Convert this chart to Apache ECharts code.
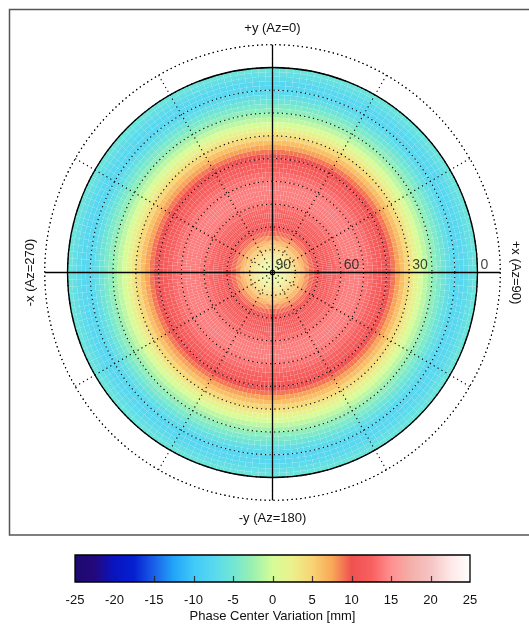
<!DOCTYPE html>
<html><head><meta charset="utf-8">
<script src="https://cdn.jsdelivr.net/npm/echarts@6/dist/echarts.min.js"></script>
<style>html,body{margin:0;padding:0;background:#fff}#c{width:529px;height:624px}</style>
</head><body><div id="c"></div>
<script>
// elevation cell centres (deg) and phase centre variation (mm), radially symmetric pattern
var elevations = [1,3,5,7,9,11,13,15,17,19,21,23,25,27,29,31,33,35,37,39,41,43,45,47,49,51,53,55,57,59,61,63,65,67,69,71,73,75,77,79,81,83,85,87,89];
var pcv = [-5.6,-6.3,-7.0,-7.5,-7.6,-7.2,-6.4,-5.3,-4.3,-3.3,-2.2,-1.0,0.3,1.8,3.3,4.8,6.2,7.6,8.9,10.0,11.0,11.8,12.5,13.1,13.5,13.8,14.0,14.0,13.9,13.6,13.2,12.7,12.2,11.6,11.0,10.2,9.3,8.2,7.0,5.8,4.5,3.4,2.4,1.7,1.3];
var azStep = 2, elStep = 2;
var ringLabels = [90, 60, 30, 0];
var cbTicks = [-25,-20,-15,-10,-5,0,5,10,15,20,25];
var cbValues = [-25,-22.5,-20,-17.5,-15,-12.5,-10,-7.5,-5,-2.5,0,2.5,5,7.5,10,12.5,15,17.5,20,22.5,25];
var cbColors = ['#1c0a6e','#24087c','#0a14c0','#0420d0','#1a5ee8','#22a4f8','#40c8f8','#58d8f0','#70e6d4','#9cf0b0','#d4fc98','#ecf08c','#f8d474','#f8a858','#f05050','#f86060','#ff9090','#f4b0aa','#f6c4c4','#ffe8e8','#ffffff'];
var dirLabels = ['+y (Az=0)', '+x (Az=90)', '-y (Az=180)', '-x (Az=270)'];
var cbTitle = 'Phase Center Variation [mm]';

var heat = [];
for (var i = 0; i < elevations.length; i++) {
  for (var az = 0; az < 360; az += azStep) heat.push([elevations[i], az + azStep / 2, pcv[i]]);
}

var FONT = '"Liberation Sans", Arial, sans-serif';
var chart = echarts.init(document.getElementById('c'), null, {renderer: 'canvas'});
var dotted = {color: '#000', type: [1.2, 3.3], width: 1.1};

function renderCell(params, api) {
  var el = api.value(0), a = api.value(1);
  var c = api.coord([90, 0]);
  var pIn = api.coord([el + elStep / 2, a]);
  var pOut = api.coord([el - elStep / 2, a]);
  var pa = api.coord([el, a - azStep / 2]);
  var pb = api.coord([el, a + azStep / 2]);
  var r0 = Math.hypot(pIn[0] - c[0], pIn[1] - c[1]);
  var r = Math.hypot(pOut[0] - c[0], pOut[1] - c[1]);
  var a1 = Math.atan2(pa[1] - c[1], pa[0] - c[0]);
  var a2 = Math.atan2(pb[1] - c[1], pb[0] - c[0]);
  if (a2 < a1) a2 += 2 * Math.PI;
  return {type: 'sector', shape: {cx: c[0], cy: c[1], r0: r0, r: r, startAngle: a1, endAngle: a2, clockwise: true},
          style: {fill: api.visual('color')}};
}

function renderBar(params, api) {
  var lo = cbValues[0], hi = cbValues[cbValues.length - 1];
  var p0 = api.coord([lo, 1]), p1 = api.coord([hi, 0]);
  var stops = cbValues.map(function (v, i) { return {offset: (v - lo) / (hi - lo), color: cbColors[i]}; });
  var kids = [{type: 'rect', shape: {x: p0[0], y: p0[1], width: p1[0] - p0[0], height: p1[1] - p0[1]},
          style: {fill: new echarts.graphic.LinearGradient(0, 0, 1, 0, stops), stroke: '#000', lineWidth: 1.3}}];
  cbTicks.slice(1, -1).forEach(function (v) {
    var p = api.coord([v, 0]);
    kids.push({type: 'line', shape: {x1: Math.round(p[0]) + 0.5, y1: p[1], x2: Math.round(p[0]) + 0.5, y2: p[1] - 6},
      style: {stroke: '#222', lineWidth: 1.2, opacity: 0.85}});
  });
  return {type: 'group', children: kids};
}

var txt = {font: '13px ' + FONT, fill: '#111', align: 'center', verticalAlign: 'middle'};
function T(s, x, y, rot) { return {type: 'text', x: x, y: y, rotation: rot || 0, style: Object.assign({text: s}, txt)}; }

chart.setOption({
  animation: false,
  backgroundColor: '#fff',
  textStyle: {fontFamily: FONT},
  graphic: [
    {type: 'rect', shape: {x: 9.5, y: 9.5, width: 540, height: 525.5}, style: {fill: null, stroke: '#555', lineWidth: 1.5}, z: 0},
    T(dirLabels[0], 272.5, 28.5),
    T(dirLabels[2], 272.5, 518),
    T(dirLabels[3], 30, 272.5, Math.PI / 2),
    T(dirLabels[1], 516, 272.5, -Math.PI / 2)
  ],
  polar: [
    {center: [272.5, 272.5], radius: 227.8},
    {center: [272.5, 272.5], radius: 205}
  ],
  angleAxis: [
    {polarIndex: 0, type: 'value', min: 0, max: 360, interval: 30, startAngle: 90, clockwise: true, z: 10,
     axisLine: {show: true, lineStyle: dotted}, axisTick: {show: false}, axisLabel: {show: false},
     splitLine: {show: true, lineStyle: dotted}},
    {polarIndex: 1, type: 'value', min: 0, max: 360, interval: 30, startAngle: 90, clockwise: true, z: 11,
     axisLine: {show: true, lineStyle: {color: '#000', width: 1.3}}, axisTick: {show: false}, axisLabel: {show: false},
     splitLine: {show: false}}
  ],
  radiusAxis: [
    {polarIndex: 0, type: 'value', min: -10, max: 90, interval: 10, inverse: true, z: 10,
     axisLine: {show: false}, axisTick: {show: false}, axisLabel: {show: false},
     splitLine: {show: true, lineStyle: dotted}},
    {polarIndex: 1, type: 'value', min: 0, max: 90, interval: 30, inverse: true,
     axisLine: {show: false}, axisTick: {show: false}, axisLabel: {show: false}, splitLine: {show: false}}
  ],
  grid: {left: 75, top: 555, width: 395, height: 27, show: false},
  xAxis: {type: 'value', min: cbTicks[0], max: cbTicks[cbTicks.length - 1], interval: 5,
    axisLine: {show: false}, axisTick: {show: false},
    axisLabel: {fontSize: 13, color: '#111', margin: 12, fontFamily: FONT},
    splitLine: {show: false},
    name: cbTitle, nameLocation: 'middle', nameGap: 28, nameTextStyle: {fontSize: 13, color: '#111', fontFamily: FONT}},
  yAxis: {type: 'value', min: 0, max: 1, show: false},
  visualMap: {show: false, type: 'continuous', min: -25, max: 25, dimension: 2, seriesIndex: 0, inRange: {color: cbColors}},
  series: [
    {type: 'custom', coordinateSystem: 'polar', polarIndex: 1, renderItem: renderCell, data: heat, z: 1, silent: true},
    {type: 'line', coordinateSystem: 'polar', polarIndex: 0, data: [[-10, 90], [-10, 270]], symbol: 'none', z: 12,
     lineStyle: {color: '#000', width: 1.3}, silent: true},
    {type: 'line', coordinateSystem: 'polar', polarIndex: 0, data: [[-10, 0], [-10, 180]], symbol: 'none', z: 12,
     lineStyle: {color: '#000', width: 1.3}, silent: true},
    {type: 'scatter', coordinateSystem: 'polar', polarIndex: 1, data: ringLabels.map(function (v) { return [v, 90]; }),
     symbolSize: 1, itemStyle: {color: 'rgba(0,0,0,0)'}, z: 13, silent: true,
     label: {show: true, position: [3.5, 0.5], align: 'left', verticalAlign: 'bottom', fontSize: 14, color: '#111', fontFamily: FONT,
       formatter: function (p) { return String(p.value[0]); }}},
    {type: 'custom', coordinateSystem: 'cartesian2d', renderItem: renderBar, data: [[0, 0]], z: 2, silent: true}
  ]
});
</script></body></html>
